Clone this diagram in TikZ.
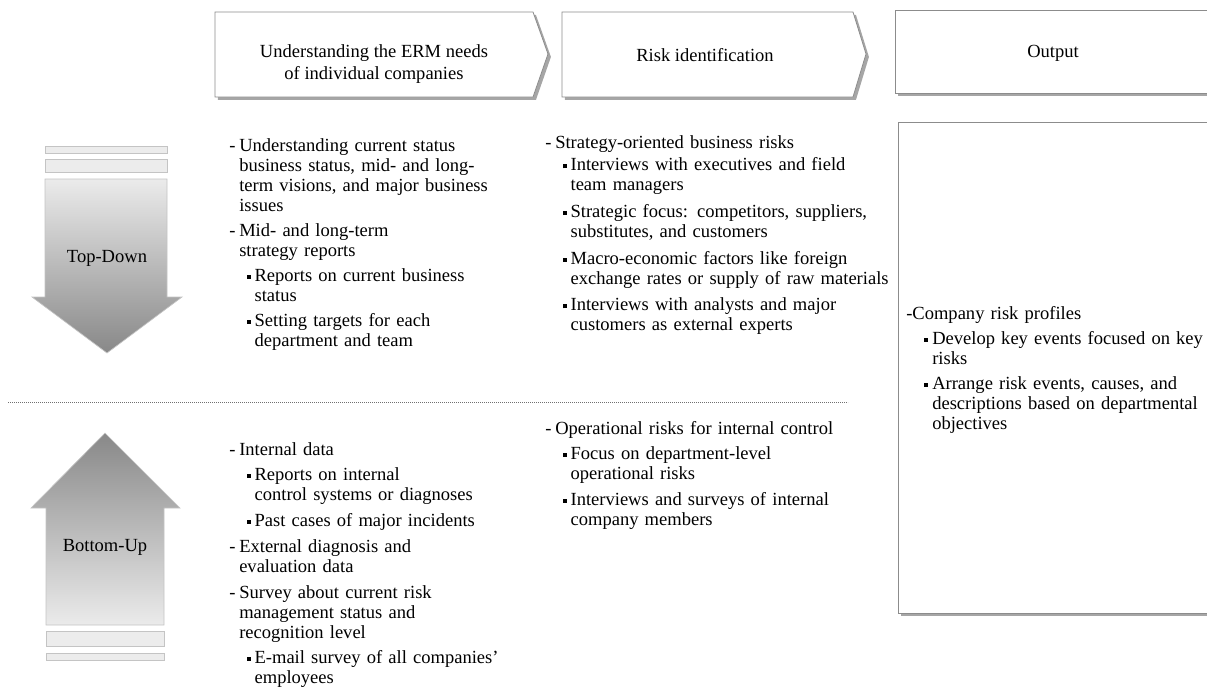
\documentclass[tikz,border=0pt]{standalone}
\usepackage{fontspec}
\setmainfont{Liberation Serif}
\usepackage{enumitem}
\usetikzlibrary{shadows}

\definecolor{framegray}{HTML}{8C8C8C}
\definecolor{barfill}{HTML}{ECECEC}
\definecolor{barline}{HTML}{C4C4C4}
\definecolor{shadelight}{HTML}{EBEBEB}
\definecolor{shadedark}{HTML}{888888}

\newlist{risklist}{itemize}{2}
\setlist[risklist,1]{label=-,align=left,leftmargin=7.5pt,labelwidth=5pt,labelsep=2.5pt,topsep=0pt,partopsep=0pt,parsep=0pt,itemsep=3.75pt}
\setlist[risklist,2]{label=\raisebox{1.9pt}{\rule{3pt}{3pt}},align=left,leftmargin=11.5pt,labelwidth=3pt,labelsep=3pt,topsep=3.75pt,partopsep=0pt,parsep=0pt,itemsep=3.75pt}

\begin{document}
\begin{tikzpicture}[x=0.75pt,y=-0.75pt,font=\fontsize{13.9}{15}\selectfont,
    frame/.style={draw=framegray,fill=white,line width=0.6pt,
      drop shadow={shadow xshift=2.2pt,shadow yshift=-2.2pt,fill=black,opacity=0.35}},
    bar/.style={draw=barline,fill=barfill,line width=0.5pt},
    arrowshape/.style={draw=barline,line width=0.5pt},
    listbox/.style={anchor=north west,inner sep=0pt,text width=#1,align=left},
    title/.style={align=center,inner sep=0pt}]
    \useasboundingbox (0,0) rectangle (1207,686);
    \draw[frame] (215,12) -- (533,12) -- (548,54) -- (533,97) -- (215,97) -- cycle;
    \draw[frame] (562,12) -- (853,12) -- (866,54) -- (853,97) -- (562,97) -- cycle;
    \draw[frame] (895,10) rectangle (1212,93);
    \draw[frame] (898,122) rectangle (1212,613);
    \node[title] (needs) at (374,64) {Understanding the ERM needs\\[2pt]of individual companies};
    \node[title] (riskid) at (705,55) {Risk identification};
    \node[title] (output) at (1053,53) {Output};
    \draw[bar] (45,146) rectangle (167,153);
    \draw[bar] (45,159) rectangle (167,172);
    \shadedraw[arrowshape,top color=shadelight,bottom color=shadedark]
      (45,179) -- (167,179) -- (167,297) -- (182,297) -- (107,353) -- (32,297) -- (45,297) -- cycle;
    \node (topdown) at (107,258) {Top-Down};
    \shadedraw[arrowshape,top color=shadedark,bottom color=shadelight]
      (105,433) -- (180,508) -- (164,508) -- (164,625) -- (46,625) -- (46,508) -- (31,508) -- cycle;
    \draw[bar] (46,631) rectangle (164,646);
    \draw[bar] (46,653) rectangle (164,660);
    \node (bottomup) at (105,547) {Bottom-Up};
    \draw[framegray!80!black,line width=0.6pt,dash pattern=on 0.6pt off 0.9pt] (8,402) -- (848,402);
    \node[listbox=215pt] (needstop) at (229,131) {%
      \begin{risklist}
      \item Understanding current status\newline business status, mid- and long-\newline term visions, and major business\newline issues
      \item Mid- and long-term\newline strategy reports
        \begin{risklist}
        \item Reports on current business\newline status
        \item Setting targets for each\newline department and team
        \end{risklist}
      \end{risklist}};
    \node[listbox=300pt] (riskidtop) at (545,128) {%
      \begin{risklist}
      \item Strategy-oriented business risks
        \begin{risklist}[topsep=2pt,itemsep=5pt]
        \item Interviews with executives and field\newline team managers
        \item Strategic focus: competitors, suppliers,\newline substitutes, and customers
        \item Macro-economic factors like foreign\newline exchange rates or supply of raw materials
        \item Interviews with analysts and major\newline customers as external experts
        \end{risklist}
      \end{risklist}};
    \node[listbox=225pt] (outputlist) at (906,299) {%
      \begin{risklist}[leftmargin=4.5pt,labelwidth=4.5pt,labelsep=0pt]
      \item Company risk profiles
        \begin{risklist}[leftmargin=15pt]
        \item Develop key events focused on key\newline risks
        \item Arrange risk events, causes, and\newline descriptions based on departmental\newline objectives
        \end{risklist}
      \end{risklist}};
    \node[listbox=215pt] (needsbot) at (229,435) {%
      \begin{risklist}[itemsep=4.5pt]
      \item Internal data
        \begin{risklist}[itemsep=4.5pt]
        \item Reports on internal\newline control systems or diagnoses
        \item Past cases of major incidents
        \end{risklist}
      \item External diagnosis and\newline evaluation data
      \item Survey about current risk\newline management status and\newline recognition level
        \begin{risklist}
        \item E-mail survey of all companies'\newline employees
        \end{risklist}
      \end{risklist}};
    \node[listbox=250pt] (riskidbot) at (545,414) {%
      \begin{risklist}
      \item Operational risks for internal control
        \begin{risklist}[itemsep=4.5pt]
        \item Focus on department-level\newline operational risks
        \item Interviews and surveys of internal\newline company members
        \end{risklist}
      \end{risklist}};
\end{tikzpicture}
\end{document}
